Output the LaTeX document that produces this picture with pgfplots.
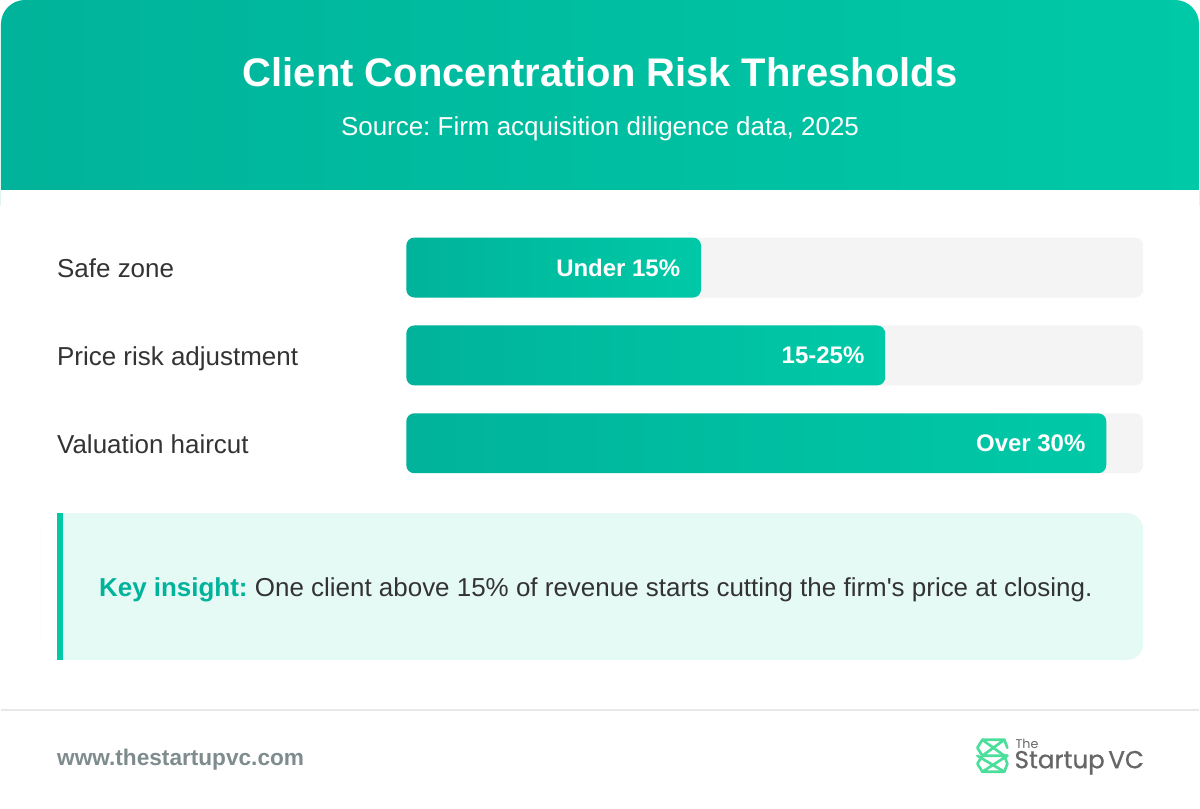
\documentclass[border=0pt]{standalone}
\usepackage{pgfplots}
\pgfplotsset{compat=1.18}
\usepackage{fontspec}
\setmainfont{Liberation Sans}[Ligatures=TeXOff]
\newfontfamily\logofont[FakeBold=0.8]{Poppins}
\newfontfamily\logofontthin{Poppins}
\definecolor{tealA}{HTML}{00B39A}
\definecolor{tealB}{HTML}{00C9A7}
\definecolor{track}{HTML}{F4F4F4}
\definecolor{mint}{HTML}{E6FAF5}
\definecolor{txt}{HTML}{333333}
\definecolor{urlgray}{HTML}{7F8C8D}
\definecolor{logogreen}{HTML}{4CDE9B}
\definecolor{logogray}{HTML}{666666}
\definecolor{sep}{HTML}{E8E8E8}
\newcommand{\fs}[1]{\fontsize{#1}{#1}\selectfont}
\frenchspacing
\begin{document}
\frenchspacing
\begin{tikzpicture}[x=0.75pt,y=-0.75pt]
% card
\fill[white] (0,0) rectangle (1200,810);
\shade[left color=tealA, right color=tealB, rounded corners=18pt] (0,0) rectangle (1200,230);
\fill[white] (0,190) rectangle (1200,810);
% title
\node[text=white, font=\bfseries\fs{30}] at (600,72) {Client Concentration Risk Thresholds};
\node[text=white, font=\fs{19.5}] at (600,129) {Source: Firm acquisition diligence data, 2025};
% bars
\begin{axis}[at={(304.5pt,-168pt)}, anchor=north west,
  x=5.535pt, y=66pt, y dir=reverse,
  xmin=0, xmax=100, ymin=-0.5, ymax=2.5,
  scale only axis, clip=false,
  axis line style={draw=none}, major tick length=0pt,
  xtick=\empty, ytick={0,1,2},
  yticklabels={Safe zone, Price risk adjustment, Valuation haircut},
  yticklabel style={anchor=base west, xshift=-262.5pt, yshift=-7.6pt, inner sep=0pt, text=txt, font=\fs{19.5}},
  xbar, bar width=45pt, bar shift=0pt,
  every node near coord/.append style={anchor=east, xshift=-15.5pt, inner sep=0pt, text=white, font=\bfseries\fs{18}},
]
\addplot[draw=none, fill=track, rounded corners=6pt] coordinates {(100,0) (100,1) (100,2)};
\addplot[draw=none, left color=tealA, right color=tealB, rounded corners=6pt,
  nodes near coords, point meta=explicit symbolic, nodes near coords align={anchor=east}]
  coordinates {(40,0) [Under 15\%]};
\addplot[draw=none, left color=tealA, right color=tealB, rounded corners=6pt,
  nodes near coords, point meta=explicit symbolic, nodes near coords align={anchor=east}]
  coordinates {(65,1) [15-25\%]};
\addplot[draw=none, left color=tealA, right color=tealB, rounded corners=6pt,
  nodes near coords, point meta=explicit symbolic, nodes near coords align={anchor=east}]
  coordinates {(95,2) [Over 30\%]};
\end{axis}
% insight box
\fill[mint, rounded corners=12pt] (40,514) rectangle (1144,661);
\fill[white] (40,514) rectangle (56,661);
\fill[tealB] (56,514) rectangle (62,661);
\node[anchor=base west, inner sep=0pt, font=\fs{19.5}, text=txt] at (98,597)
  {\textcolor{tealA}{\bfseries Key insight:}\hspace{0.28em}One client above 15\% of revenue starts cutting the firm's price at closing.};
% footer
\draw[sep, line width=1.5pt] (0,711) -- (1200,711);
\node[anchor=base west, inner sep=0pt, font=\bfseries\fs{17}, text=urlgray] at (56,767) {www.thestartupvc.com};
% logo
\begin{scope}[logogreen, line width=2pt, line join=round, line cap=round]
\draw (983,741) -- (1005,741) -- (983,757) -- (1008,757) -- (983,773) -- (1005,773);
\draw (983,741) -- (978,749) -- (983,757);
\draw (1005,741) -- (1008,749);
\draw (983,757) -- (978,765) -- (983,773);
\draw (1005,773) -- (1008,765) -- (1005,757) -- (1008,757);
\draw (983,741) -- (1005,757);
\draw (978,757) -- (1005,773);
\end{scope}
\node[anchor=west, inner sep=0pt, font=\logofontthin\fs{9.5}, text=logogray] at (1016,745) {The};
\node[anchor=west, inner sep=0pt, font=\logofont\fs{18.4}, text=logogray] at (1015,764) {Startup\hspace{0.15em}VC};
\end{tikzpicture}
\end{document}
